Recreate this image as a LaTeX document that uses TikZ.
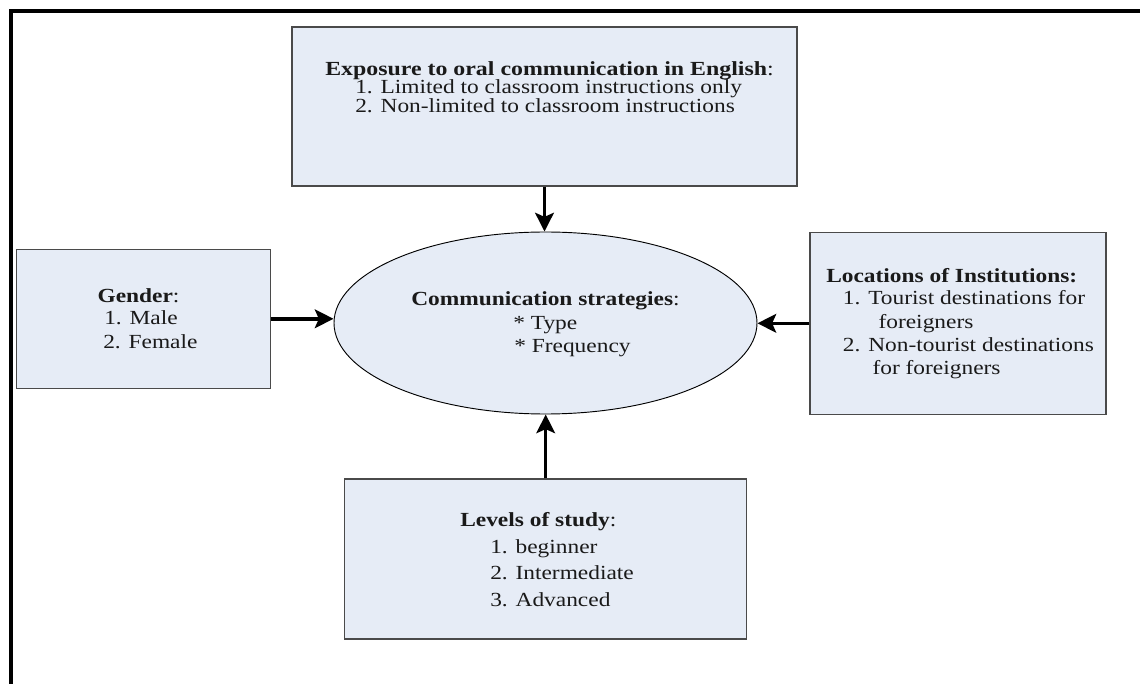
\documentclass[tikz,border=0pt]{standalone}
\usepackage{graphicx}
\usepackage{fontspec}
\setmainfont[FakeStretch=1.17]{Liberation Serif}
\usetikzlibrary{arrows.meta,shapes.geometric}
\definecolor{boxfill}{HTML}{E6ECF6}
\definecolor{boxline}{HTML}{4A4A4A}
\definecolor{ink}{HTML}{1A1A1A}
\begin{document}
\begin{tikzpicture}[x=0.75pt,y=-0.75pt,
  box/.style={rectangle,draw=boxline,line width=0.9pt,fill=boxfill,inner sep=0pt},
  oval/.style={ellipse,draw=black,line width=0.7pt,fill=boxfill,inner sep=0pt},
  txt/.style={anchor=base west,inner sep=0pt,text=ink,font=\fontsize{15pt}{17pt}\selectfont},
  arr/.style={line width=2.6pt,-{Stealth[length=14pt,width=14pt,inset=3pt]}}]
\useasboundingbox (0,0) rectangle (1140,684);
% frame
\draw[line width=3pt] (11,684) -- (11,11.5) -- (1140,11.5);
% shapes
\node[box,minimum width=378.75pt,minimum height=119.25pt] (expo) at (544.5,106.5) {};
\node[box,minimum width=190.5pt,minimum height=104.25pt] (gender) at (143.7,318.8) {};
\node[box,minimum width=222pt,minimum height=136.5pt] (loc) at (958,323.3) {};
\node[box,minimum width=301.5pt,minimum height=120pt] (lev) at (545.7,559) {};
\node[oval,minimum width=317.25pt,minimum height=136.5pt] (cs) at (545.5,323) {};
% texts
\node[txt] (t1) at (325,75.3) {\scalebox{1.02}[1]{\textbf{Exposure to oral communication in English}:}};
\node[txt] (t2) at (355,94) {1. Limited to classroom instructions only};
\node[txt] (t3) at (355,112.5) {2. Non-limited to classroom instructions};
\node[txt] (g1) at (97.3,302.3) {\textbf{Gender}:};
\node[txt] (g2) at (104,325) {1. Male};
\node[txt] (g3) at (103,348.3) {2. Female};
\node[txt] (c1) at (411,306) {\textbf{Communication strategies}:};
\node[txt] (c2) at (513,329.3) {* Type};
\node[txt] (c3) at (514,352.7) {* Frequency};
\node[txt] (l1) at (826,282.7) {\textbf{Locations of Institutions:}};
\node[txt] (l2) at (842.7,305) {1. Tourist destinations for};
\node[txt] (l3) at (878.3,328.3) {foreigners};
\node[txt] (l4) at (842.7,351.7) {2. Non-tourist destinations};
\node[txt] (l5) at (872.3,375) {for foreigners};
\node[txt] (v1) at (460,527) {\textbf{Levels of study}:};
\node[txt] (v2) at (490,553) {1. beginner};
\node[txt] (v3) at (490,579) {2. Intermediate};
\node[txt] (v4) at (490,606) {3. Advanced};
% connectors
\draw[arr] (expo.south) -- (expo.south |- cs.north);
\draw[arr] (gender.east) -- (gender.east -| cs.west);
\draw[arr] (loc.west) -- (loc.west -| cs.east);
\draw[arr] (lev.north) -- (lev.north |- cs.south);
\end{tikzpicture}
\end{document}
